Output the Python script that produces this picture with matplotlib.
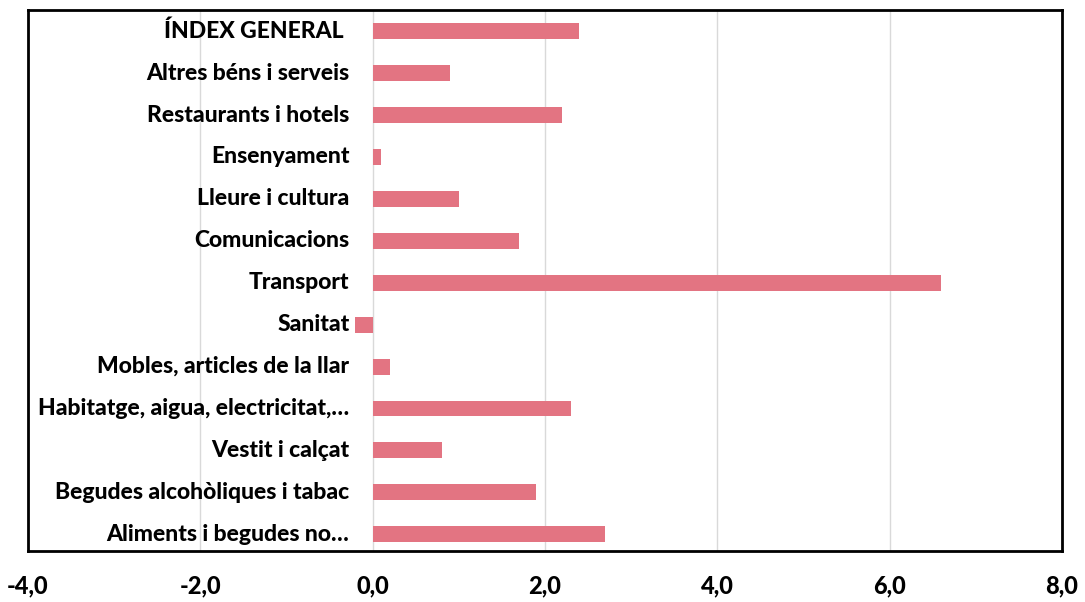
import matplotlib.pyplot as plt
from matplotlib.ticker import FuncFormatter

# dades (de baix a dalt)
categories = [
    "Aliments i begudes no…",
    "Begudes alcohòliques i tabac",
    "Vestit i calçat",
    "Habitatge, aigua, electricitat,…",
    "Mobles, articles de la llar",
    "Sanitat",
    "Transport",
    "Comunicacions",
    "Lleure i cultura",
    "Ensenyament",
    "Restaurants i hotels",
    "Altres béns i serveis",
    "ÍNDEX GENERAL ",
]
values = [2.7, 1.9, 0.8, 2.3, 0.2, -0.2, 6.6, 1.7, 1.0, 0.1, 2.2, 0.9, 2.4]
xticks = [-4, -2, 0, 2, 4, 6, 8]

plt.rcParams['font.family'] = ['Lato', 'DejaVu Sans']

fig = plt.figure(figsize=(10.85, 6.02), dpi=100)
ax = fig.add_axes([0.0258, 0.0847, 0.9530, 0.8983])

y = list(range(len(categories)))
ax.barh(y, values, height=0.38, color="#E37482", zorder=3)

ax.set_xlim(-4, 8)
ax.set_ylim(-0.4, len(categories) - 0.5)
ax.set_xticks(xticks)
ax.xaxis.set_major_formatter(FuncFormatter(lambda v, p: f"{v:.1f}".replace(".", ",")))
ax.set_yticks([])
ax.tick_params(axis="x", length=0, pad=17, labelsize=17)
for lab in ax.get_xticklabels():
    lab.set_fontweight("black")

ax.grid(axis="x", color="#D9D9D9", linewidth=1, zorder=0)
for s in ax.spines.values():
    s.set_linewidth(2)
    s.set_color("black")

# etiquetes dins l'àrea del gràfic
for yi, name in zip(y, categories):
    ax.text(-0.27, yi, name, ha="right", va="center", fontsize=16.5,
            fontweight="black", zorder=4)

plt.savefig("out.png", dpi=100)
